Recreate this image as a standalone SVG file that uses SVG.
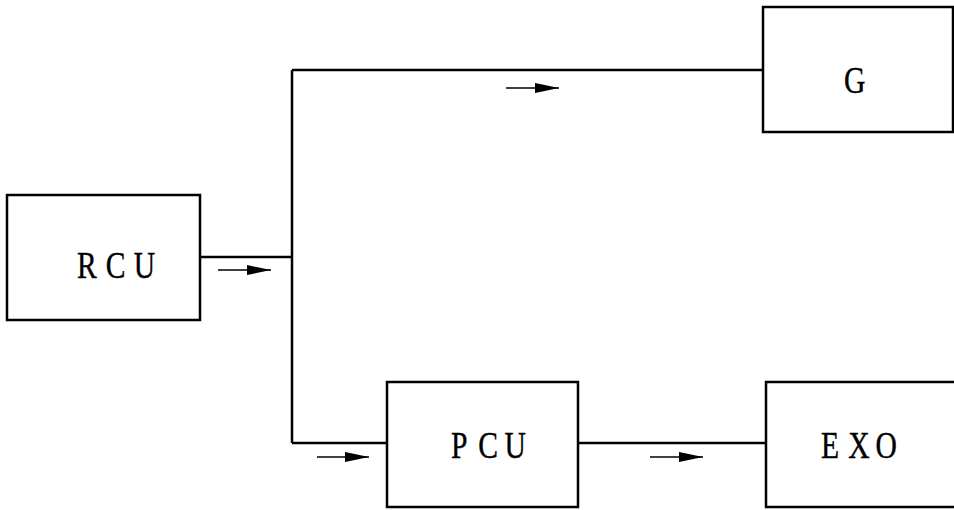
<svg xmlns="http://www.w3.org/2000/svg" width="954" height="510" viewBox="0 0 954 510">
<style>
.box{fill:#fff;stroke:#000;stroke-width:2.5}
.ln{fill:none;stroke:#000;stroke-width:2.5}
.ar{fill:none;stroke:#000;stroke-width:1.5}
.lbl{font-family:"Liberation Serif","Times New Roman",serif;font-size:37px;fill:#000;stroke:#000;stroke-width:0.4}
</style>
<defs>
<marker id="tri" viewBox="0 0 10 10" refX="10" refY="5" markerWidth="24" markerHeight="10" markerUnits="userSpaceOnUse" orient="auto" preserveAspectRatio="none">
<path d="M0,0 L10,5 L0,10 z" fill="#000"/>
</marker>
</defs>
<rect width="954" height="510" fill="#fff"/>
<g id="connectors">
<path class="ln" d="M200,257 H292"/>
<path class="ln" d="M292,70 V443"/>
<path class="ln" d="M292,70 H763"/>
<path class="ln" d="M292,443 H387"/>
<path class="ln" d="M578,443 H766"/>
<path class="ar" d="M218,270 H271" marker-end="url(#tri)"/>
<path class="ar" d="M506,88 H559" marker-end="url(#tri)"/>
<path class="ar" d="M317,457 H369" marker-end="url(#tri)"/>
<path class="ar" d="M650,457 H703" marker-end="url(#tri)"/>
</g>
<g id="RCU">
<rect class="box" x="7" y="195" width="193" height="125"/>
<text class="lbl" transform="translate(77,278) scale(0.8,1)" x="0 36 71" y="0">RCU</text>
</g>
<g id="G">
<rect class="box" x="763" y="7" width="190" height="125"/>
<text class="lbl" transform="translate(844,93) scale(0.8,1)" x="0" y="0">G</text>
</g>
<g id="PCU">
<rect class="box" x="387" y="382" width="191" height="125"/>
<text class="lbl" transform="translate(451,458) scale(0.8,1)" x="0 34 67" y="0">PCU</text>
</g>
<g id="EXO">
<rect class="box" x="766" y="382" width="200" height="125"/>
<text class="lbl" transform="translate(821,458) scale(0.8,1)" x="0 34 68" y="0">EXO</text>
</g>
</svg>
